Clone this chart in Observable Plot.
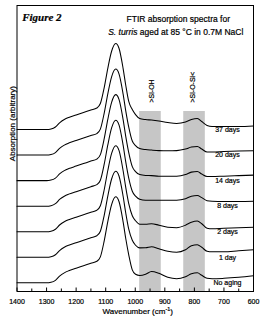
<!DOCTYPE html>
<html>
<head>
<meta charset="utf-8">
<script src="https://cdn.jsdelivr.net/npm/d3@7"></script>
<script src="https://cdn.jsdelivr.net/npm/@observablehq/plot@0.6"></script>
<style>
  html, body { margin: 0; padding: 0; background: #fff; }
  svg { display: block; }
  svg text { stroke: #000; stroke-width: 0.2px; }
</style>
</head>
<body>
<script>
// ---- data (arbitrary absorbance, main peak = 100) ----
const wavenumbers = [1400, 1350, 1300, 1285, 1270, 1255, 1240, 1225, 1200, 1175,
  1150, 1130, 1118, 1105, 1093, 1080, 1066, 1055, 1041, 1032,
  1022, 1010, 999, 985, 965, 945, 920, 890, 860, 830,
  810, 790, 775, 757, 740, 700, 650, 600];

// shared part of every spectrum, 1400 .. 1022 cm-1
const commonSpectrum = [0, 0, 0, 0.6, 2.9, 8.1, 11.6, 14.0, 16.9, 19.8,
  22.7, 25.0, 30.2, 48.8, 70.9, 91.0, 100, 94.5, 70.9, 51.2, 32.6];

// per-sample part, 1010 .. 600 cm-1
const tailNoAging = [15.1, 9.9, 8.5, 9.9, 13.1, 11.0, 6.4, 4.7, 7.0, 10.5, 11.6, 8.7, 5.2, 4.7, 5.2, 6.4, 8.1];
const tail1Day    = [19.8, 14.0, 10.9, 11.0, 12.2, 9.9, 7.0, 5.8, 8.7, 13.4, 14.5, 11.6, 7.0, 6.4, 6.4, 7.6, 8.7];
const tail2Days   = [18.6, 12.8, 8.7, 8.7, 9.3, 7.6, 5.2, 4.7, 7.6, 11.0, 12.4, 9.3, 4.1, 3.5, 4.1, 4.7, 5.2];
const tail8Days   = [17.4, 11.6, 8.1, 7.0, 7.0, 7.0, 7.0, 7.0, 8.7, 11.6, 12.4, 9.9, 6.4, 5.8, 5.5, 5.5, 5.8];
const tail14Days  = [16.3, 10.5, 7.0, 6.0, 5.8, 5.2, 5.2, 5.2, 7.0, 9.9, 10.5, 7.6, 4.7, 4.7, 5.2, 5.8, 6.4];
const tail20Days  = [16.3, 11.0, 7.6, 6.4, 5.8, 5.2, 5.0, 5.2, 7.0, 9.3, 10.0, 7.0, 3.5, 3.5, 4.1, 4.7, 5.0];
const tail37Days  = [23.3, 17.4, 12.8, 11.6, 11.0, 9.9, 8.1, 7.0, 8.7, 11.6, 12.8, 9.3, 4.7, 3.5, 3.5, 3.5, 4.1];

const seriesNames = ["No aging", "1 day", "2 days", "8 days", "14 days", "20 days", "37 days"];
const seriesTails = [tailNoAging, tail1Day, tail2Days, tail8Days, tail14Days, tail20Days, tail37Days];

const majorTicks = [1400, 1300, 1200, 1100, 1000, 900, 800, 700, 600];
const minorTicks = [1350, 1250, 1150, 1050, 950, 850, 750, 650];

const bandLimits = [[985, 912], [836, 763]];
const bandLabels = [">Si-OH", ">Si-O-Si<"];
const bandLabelX = [943, 805];

const offsetStep = 29.7; // vertical stacking step between spectra

// ---- build tables ----
const rows = [];
seriesNames.forEach((name, i) => {
  const vals = commonSpectrum.concat(seriesTails[i]);
  wavenumbers.forEach((w, j) => rows.push({series: name, wn: w, a: vals[j] + i * offsetStep}));
});
const labelRows = seriesNames.map((name, i) => ({series: name, base: i * offsetStep}));
const bands = bandLimits.map(([a, b]) => ({x1: a, x2: b}));
const bandText = bandLabels.map((t, i) => ({t, x: bandLabelX[i]}));

const plot = Plot.plot({
  width: 263,
  height: 317,
  marginLeft: 16.5,
  marginRight: 10,
  marginTop: 5,
  marginBottom: 26,
  style: {fontFamily: "'Liberation Sans', Arial, sans-serif", fontSize: "7px", background: "#fff", color: "#000"},
  x: {domain: [1400, 600], axis: null},
  y: {domain: [-10.1, 322.4], axis: null},
  marks: [
    Plot.rect(bands, {x1: "x1", x2: "x2", fill: "#c6c6c6", insetTop: 106}),
    Plot.line(rows, {x: "wn", y: "a", z: "series", curve: "monotone-x", stroke: "#000", strokeWidth: 1.05}),
    Plot.text(labelRows, {x: 688, y: "base", text: "series", fontSize: 7, fill: "#000", lineAnchor: "middle"}),
    Plot.text(bandText, {x: "x", text: "t", frameAnchor: "top", dy: 97, rotate: -90, textAnchor: "start", lineAnchor: "middle", fontSize: 7, fill: "#000"}),
    Plot.axisX({ticks: majorTicks, tickSize: 0, tickPadding: 7.5, tickFormat: "d", label: null, fontSize: 7, fill: "#000"}),
    Plot.ruleX(majorTicks, {x: d => d, insetTop: 282.5, stroke: "#000"}),
    Plot.ruleX(minorTicks, {x: d => d, insetTop: 283.5, stroke: "#000"}),
    Plot.text(["Absorption (arbitrary)"], {frameAnchor: "left", rotate: -90, dx: -5, dy: 12.7, fontSize: 8, fill: "#000", lineAnchor: "middle"}),
    Plot.text(["Figure 2"], {frameAnchor: "top-left", dx: 5.2, dy: 11.5, lineAnchor: "middle", textAnchor: "start",
      fontFamily: "'Liberation Serif', 'Times New Roman', serif", fontWeight: "bold", fontStyle: "italic", fontSize: 11, fill: "#000"}),
    Plot.text(["FTIR absorption spectra for"], {frameAnchor: "top", dx: 43, dy: 14, lineAnchor: "middle", fontSize: 8.5, fill: "#000"}),
    Plot.frame({stroke: "#000", strokeWidth: 1})
  ]
});

document.body.appendChild(plot);

// texts with mixed styling (italic species name, superscript unit)
const svg = d3.select(plot);
const xr = [16.5, 253];
const xc = (xr[0] + xr[1]) / 2;
const t2 = svg.append("text")
  .attr("x", xc + 41).attr("y", 35)
  .attr("text-anchor", "middle")
  .attr("font-size", 8.5)
  .attr("fill", "#000");
t2.append("tspan").attr("font-style", "italic").text("S. turris");
t2.append("tspan").text(" aged at 85 \u00B0C in 0.7M NaCl");

const t3 = svg.append("text")
  .attr("x", xc + 3).attr("y", 314)
  .attr("text-anchor", "middle")
  .attr("font-size", 8)
  .attr("fill", "#000");
t3.append("tspan").text("Wavenumber (cm");
t3.append("tspan").attr("font-size", 5.5).attr("dy", -3).text("-1");
t3.append("tspan").attr("dy", 3).text(")");
</script>
</body>
</html>
